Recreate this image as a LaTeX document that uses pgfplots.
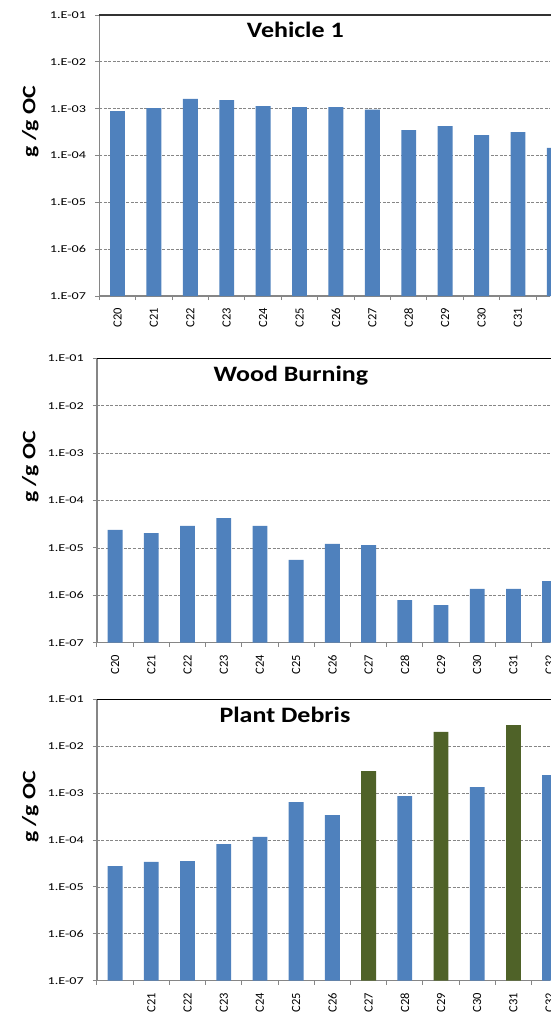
\documentclass[border=0pt]{standalone}
\usepackage{fontspec}
\setmainfont{Carlito}
\newfontfamily\ticknumfont[FakeStretch=1.35]{Carlito}
\newfontfamily\titlefont[FakeStretch=1.18]{Carlito}
\newfontfamily\ylabfont[FakeStretch=1.25]{Carlito}
\usepackage{pgfplots}
\pgfplotsset{compat=1.18}

\definecolor{barblue}{HTML}{4F81BD}
\definecolor{bargreen}{HTML}{4F6228}
\definecolor{axisgray}{HTML}{868686}
\definecolor{frametop}{HTML}{333333}

\pgfplotsset{
  logpanel/.style={
    scale only axis,
    anchor=south west,
    clip=false,
    ybar,
    bar width=0.41,
    log origin y=infty,
    ymin=1e-7, ymax=1e-1,
    ytick={1e-7,1e-6,1e-5,1e-4,1e-3,1e-2,1e-1},
    yticklabels={1.E-07,1.E-06,1.E-05,1.E-04,1.E-03,1.E-02,1.E-01},
    yminorticks=false,
    xmin=-0.5,
    xtick={0,...,12},
    minor xtick={-0.5,0.5,...,11.5},
    axis lines*=left,
    axis line style={-, draw=axisgray, line width=1.5pt},
    tick align=outside,
    major tick length=4pt,
    minor tick length=4pt,
    major x tick style={draw=none},
    minor x tick style={draw=axisgray, line width=1pt},
    major y tick style={draw=axisgray, line width=1pt},
    ymajorgrids,
    major grid style={draw=axisgray, line width=0.8pt, dash pattern=on 3pt off 1.5pt},
    yticklabel style={font=\ticknumfont\fontsize{10.5}{12}\selectfont, inner sep=0pt, xshift=-9pt},
    xticklabel style={rotate=90, anchor=east, inner sep=0pt, xshift=-8pt,
      font=\fontsize{12.5}{14}\selectfont},
    ylabel={g /g OC},
    ylabel style={font=\ylabfont\bfseries\fontsize{19}{22}\selectfont},
    title style={font=\titlefont\bfseries\fontsize{22}{26}\selectfont},
  },
  colbar/.style={fill=#1, draw=none, bar shift=0pt},
}

\begin{document}
\begin{tikzpicture}
\useasboundingbox (0,0) rectangle (550pt,-1017pt);

% Vehicle 1
\begin{axis}[ymode=log, logpanel,
  at={(99.3pt,-296pt)}, width=450.7pt, height=281pt, xmax=11.88,
  xticklabels={C20,C21,C22,C23,C24,C25,C26,C27,C28,C29,C30,C31,C32},
  title={Vehicle 1},
  title style={at={(axis description cs:0.435,0.898)}, anchor=base},
  ylabel style={at={(axis description cs:-0.153,0.62)}, anchor=center},
]
\addplot[colbar=barblue] coordinates {
  (0,8.9e-4) (1,1.03e-3) (2,1.61e-3) (3,1.53e-3) (4,1.14e-3) (5,1.08e-3)
  (6,1.08e-3) (7,9.5e-4) (8,3.5e-4) (9,4.26e-4) (10,2.74e-4) (11,3.17e-4)
  (12,1.45e-4)};
\draw[frametop, line width=1.5pt] (rel axis cs:0,1) -- (rel axis cs:1.05,1);
\end{axis}

% Wood Burning
\begin{axis}[ymode=log, logpanel,
  at={(97pt,-642.7pt)}, width=453pt, height=284.4pt, xmax=12.01,
  xticklabels={C20,C21,C22,C23,C24,C25,C26,C27,C28,C29,C30,C31,C32},
  title={Wood Burning},
  title style={at={(axis description cs:0.428,0.899)}, anchor=base},
  ylabel style={at={(axis description cs:-0.147,0.618)}, anchor=center},
]
\addplot[colbar=barblue] coordinates {
  (0,2.39e-5) (1,2.06e-5) (2,2.9e-5) (3,4.27e-5) (4,2.9e-5) (5,5.56e-6)
  (6,1.21e-5) (7,1.15e-5) (8,7.96e-7) (9,6.24e-7) (10,1.36e-6) (11,1.36e-6)
  (12,2.0e-6)};
\draw[black, line width=1.2pt] (rel axis cs:0,1) -- (rel axis cs:1.05,1);
\end{axis}

% Plant Debris
\begin{axis}[ymode=log, logpanel,
  at={(97pt,-980.7pt)}, width=453pt, height=281.4pt, xmax=12.01,
  xticklabels={{},C21,C22,C23,C24,C25,C26,C27,C28,C29,C30,C31,C32},
  title={Plant Debris},
  title style={at={(axis description cs:0.415,0.896)}, anchor=base},
  ylabel style={at={(axis description cs:-0.147,0.617)}, anchor=center},
]
\addplot[colbar=barblue] coordinates {
  (0,2.79e-5) (1,3.4e-5) (2,3.56e-5) (3,8.2e-5) (4,1.16e-4) (5,6.46e-4)
  (6,3.41e-4) (8,8.67e-4) (10,1.35e-3) (12,2.43e-3)};
\addplot[colbar=bargreen] coordinates {
  (7,2.96e-3) (9,2.01e-2) (11,2.83e-2)};
\draw[black, line width=1.2pt] (rel axis cs:0,1) -- (rel axis cs:1.05,1);
\end{axis}
\end{tikzpicture}
\end{document}
